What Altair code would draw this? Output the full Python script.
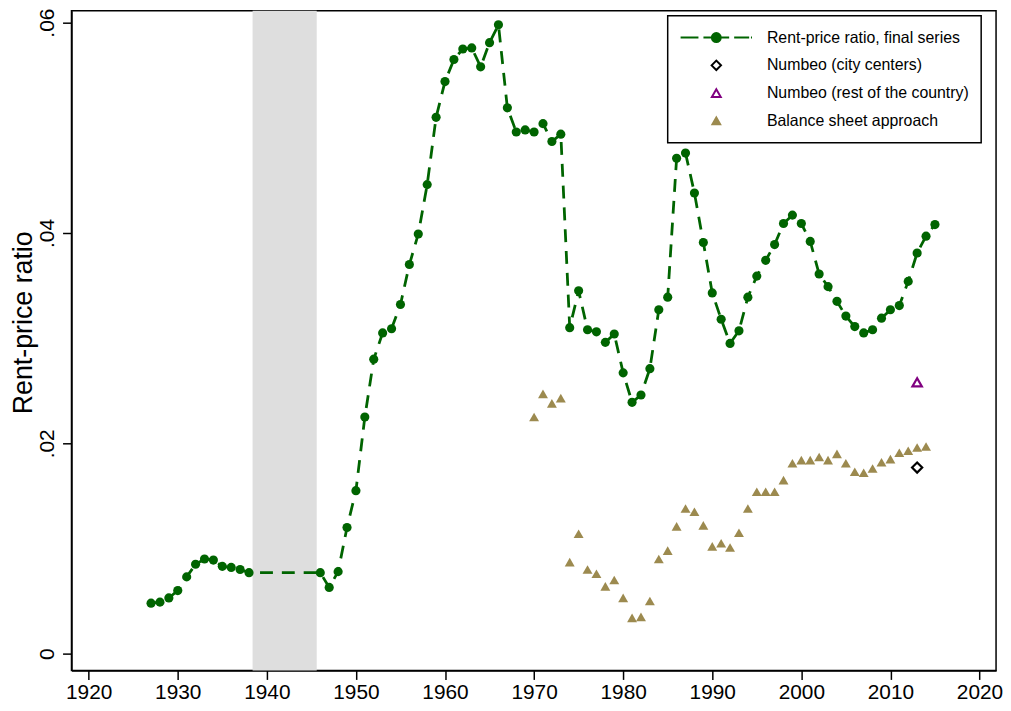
import altair as alt
import pandas as pd

# ---------------- data ----------------
rp_years = list(range(1927, 1939)) + list(range(1946, 2016))
rp_values = [
    0.0048, 0.0049, 0.0053, 0.0060, 0.0073, 0.0085, 0.0090, 0.0089, 0.0083, 0.0082, 0.0080, 0.0077,
    0.0077, 0.0063, 0.0078, 0.0120, 0.0155, 0.0225, 0.0280, 0.0305, 0.0309, 0.0332,
    0.0370, 0.0399, 0.0446, 0.0510, 0.0544, 0.0565, 0.0575, 0.0576, 0.0558, 0.0581,
    0.0598, 0.0519, 0.0496, 0.0498, 0.0496, 0.0504, 0.0487, 0.0494, 0.0310, 0.0345,
    0.0308, 0.0306, 0.0296, 0.0304, 0.0267, 0.0239, 0.0246, 0.0271, 0.0327, 0.0339,
    0.0471, 0.0476, 0.0438, 0.0391, 0.0343, 0.0318, 0.0295, 0.0307, 0.0339, 0.0359,
    0.0374, 0.0389, 0.0409, 0.0417, 0.0409, 0.0392, 0.0361, 0.0349, 0.0335, 0.0321,
    0.0311, 0.0305, 0.0308, 0.0319, 0.0327, 0.0331, 0.0354, 0.0381, 0.0397, 0.0408,
]
bs_years = list(range(1970, 2015))
bs_values = [
    0.0225, 0.0247, 0.0238, 0.0243, 0.0087, 0.0114, 0.0080, 0.0076, 0.0064, 0.0070,
    0.0053, 0.0034, 0.0035, 0.0050, 0.0090, 0.0098, 0.0121, 0.0138, 0.0135, 0.0122,
    0.0102, 0.0105, 0.0101, 0.0115, 0.0138, 0.0154, 0.0154, 0.0154, 0.0165, 0.0181,
    0.0184, 0.0184, 0.0187, 0.0184, 0.0190, 0.0181, 0.0173, 0.0172, 0.0176, 0.0182,
    0.0185, 0.0191, 0.0193, 0.0196, 0.0197,
]
nb_city_years = [2013]
nb_city_values = [0.0177]
nb_rest_years = [2013]
nb_rest_values = [0.0258]
band_start = [1938.4]
band_end = [1945.6]

series_names = [
    "Rent-price ratio, final series",
    "Numbeo (city centers)",
    "Numbeo (rest of the country)",
    "Balance sheet approach",
]
x_ticks = list(range(1920, 2021, 10))
y_ticks = [0, 0.02, 0.04, 0.06]

# ---------------- style ----------------
GREEN = "#006400"
TAN = "#9c8a4f"
PURPLE = "#800080"
BAND = "#dedede"
FONT = "Liberation Sans"
W, H = 932, 665

rp = pd.DataFrame({"year": rp_years, "value": rp_values})
bs = pd.DataFrame({"year": bs_years, "value": bs_values})
nbc = pd.DataFrame({"year": nb_city_years, "value": nb_city_values})
nbr = pd.DataFrame({"year": nb_rest_years, "value": nb_rest_values})
band = pd.DataFrame({"start": band_start, "end": band_end})
leg = pd.DataFrame({"series": series_names})

xscale = alt.Scale(domain=[1918.07, 2021.86], nice=False, zero=False)
yscale = alt.Scale(domain=[-0.0016, 0.06113], nice=False, zero=False)

xaxis = alt.Axis(values=x_ticks, format="d", title=None, grid=False,
                 labelFontSize=21, tickSize=9, labelPadding=2)
yaxis = alt.Axis(values=y_ticks, grid=False, title="Rent-price ratio",
                 labelExpr="datum.value == 0 ? '0' : substring(format(datum.value, '.2f'), 1)",
                 labelAngle=-90, labelAlign="center", labelBaseline="alphabetic",
                 labelPadding=9, labelFontSize=21, tickSize=9,
                 titleFontSize=27, titleFontWeight="normal", titleX=-40, titleY=314,
                 titleAlign="center", titleBaseline="alphabetic", titleAngle=-90)

X = lambda f: alt.X(f, type="quantitative", scale=xscale, axis=xaxis)
Y = lambda f: alt.Y(f, type="quantitative", scale=yscale, axis=yaxis)

band_layer = alt.Chart(band).mark_rect(color=BAND).encode(
    x=X("start"), x2="end:Q", y=alt.value(0), y2=alt.value(H)
)

line_layer = alt.Chart(rp).mark_line(color=GREEN, strokeDash=[13, 9], strokeWidth=2.8).encode(
    x=X("year"), y=Y("value")
)
pts_layer = alt.Chart(rp).mark_circle(color=GREEN, size=85, opacity=1).encode(
    x=X("year"), y=Y("value")
)
bs_layer = alt.Chart(bs).mark_point(shape="triangle-up", filled=True, size=100, color=TAN, opacity=1).encode(
    x=X("year"), y=Y("value")
)
nbr_layer = alt.Chart(nbr).mark_point(shape="triangle-up", filled=False, size=90, color=PURPLE,
                                      strokeWidth=2.2, opacity=1).encode(
    x=X("year"), y=Y("value")
)
nbc_layer = alt.Chart(nbc).mark_point(shape="diamond", filled=False, size=105, color="black",
                                      strokeWidth=2.2, opacity=1).encode(
    x=X("year"), y=Y("value")
)

# legend-only layer (no rows drawn)
line_sym = ("M-1,0L-0.5,0M-0.36,0L-0.12,0M0.12,0L0.36,0M0.5,0L0.92,0M0.97,0L1,0"
            "M-0.125,0A0.125,0.125,0,1,1,0.125,0A0.125,0.125,0,1,1,-0.125,0Z")
legend_layer = alt.Chart(leg).transform_filter("false").mark_point(filled=True, opacity=1).encode(
    shape=alt.Shape("series:N", scale=alt.Scale(domain=series_names,
                    range=[line_sym, "diamond", "triangle-up", "triangle-up"]),
                    legend=alt.Legend(title=None)),
    fill=alt.Fill("series:N", scale=alt.Scale(domain=series_names,
                  range=[GREEN, "transparent", "transparent", TAN]), legend=alt.Legend(title=None)),
    stroke=alt.Stroke("series:N", scale=alt.Scale(domain=series_names,
                      range=[GREEN, "black", PURPLE, TAN]), legend=alt.Legend(title=None)),
    size=alt.Size("series:N", scale=alt.Scale(type="ordinal", domain=series_names,
                  range=[5184, 90, 80, 60]), legend=alt.Legend(title=None)),
)

chart = alt.layer(
    band_layer, line_layer, pts_layer, bs_layer, nbr_layer, nbc_layer, legend_layer
).properties(
    width=W, height=H,
    autosize=alt.AutoSizeParams(type="none"),
    padding={"left": 64, "top": 0, "right": 7, "bottom": 34},
).configure(
    font=FONT,
).configure_view(
    stroke="black", strokeWidth=1.5
).configure_axis(
    labelFont=FONT, titleFont=FONT, labelColor="black", titleColor="black",
    domainColor="black", domainWidth=1.5, tickColor="black", tickWidth=1.5,
).configure_legend(
    orient="none", legendX=601, legendY=5, padding=12,
    strokeColor="black", strokeWidth=1.5, fillColor="white",
    labelFont=FONT, labelFontSize=16, labelColor="black", labelLimit=400,
    symbolStrokeWidth=2, clipHeight=20, rowPadding=8, labelOffset=14, symbolOffset=0,
)

chart.save("out.html", embed_options={"renderer": "svg", "actions": False})
